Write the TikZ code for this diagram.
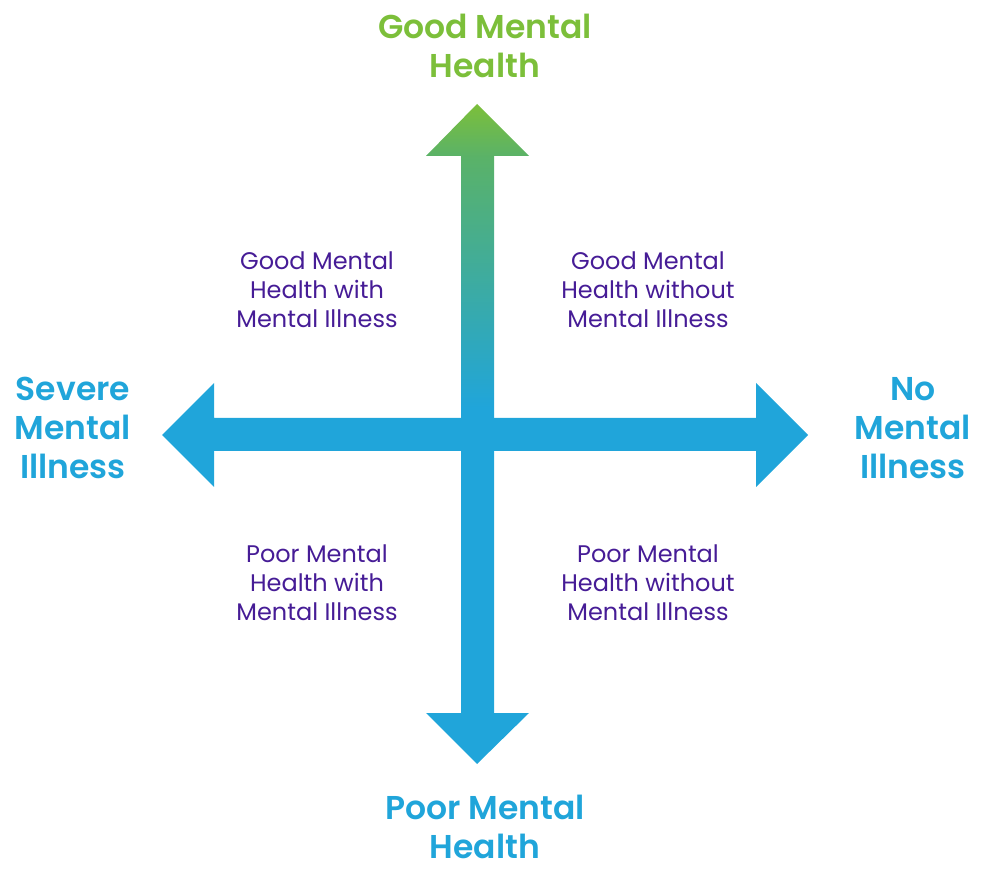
\documentclass[tikz,border=0pt]{standalone}
\usepackage{fontspec}
\setmainfont{Poppins}[BoldFont={Poppins SemiBold}]
\definecolor{mhgreen}{RGB}{124,191,58}
\definecolor{mhmid}{RGB}{90,178,104}
\definecolor{mhblue}{RGB}{32,165,218}
\definecolor{mhpurple}{RGB}{70,28,150}
\pgfdeclareverticalshading{mhgrad}{100bp}{color(0bp)=(mhblue); color(52bp)=(mhblue); color(71bp)=(mhmid); color(75bp)=(mhgreen); color(100bp)=(mhgreen)}
\begin{document}
\begin{tikzpicture}[x=1pt,y=-1pt,
  axislabel/.style={font=\fontsize{33}{39}\selectfont\bfseries, align=center, inner sep=0pt},
  quadlabel/.style={font=\fontsize{24}{29}\selectfont, text=mhpurple, align=center, inner sep=0pt}]
\useasboundingbox (0,0) rectangle (997,877);
% vertical double arrow with gradient
\shade[shading=mhgrad]
  (477,104) -- (529,156) -- (494,156) -- (494,713) -- (529,713) -- (477,764)
  -- (426,713) -- (461,713) -- (461,156) -- (426,156) -- cycle;
% horizontal double arrow
\fill[mhblue]
  (162,435) -- (214,383) -- (214,418) -- (756,418) -- (756,383) -- (808,435)
  -- (756,487) -- (756,451) -- (214,451) -- (214,487) -- cycle;
% axis labels
\node[axislabel, text=mhgreen] (good) at (485,46) {Good Mental\\Health};
\node[axislabel, text=mhblue] (poor) at (485,827) {Poor Mental\\Health};
\node[axislabel, text=mhblue] (severe) at (73,428) {Severe\\Mental\\Illness};
\node[axislabel, text=mhblue] (none) at (913,428) {No\\Mental\\Illness};
% quadrant labels
\node[quadlabel] (gwith) at (317,290) {Good Mental\\Health with\\Mental Illness};
\node[quadlabel] (gwithout) at (648,290) {Good Mental\\Health without\\Mental Illness};
\node[quadlabel] (pwith) at (317,583) {Poor Mental\\Health with\\Mental Illness};
\node[quadlabel] (pwithout) at (648,583) {Poor Mental\\Health without\\Mental Illness};
\end{tikzpicture}
\end{document}
